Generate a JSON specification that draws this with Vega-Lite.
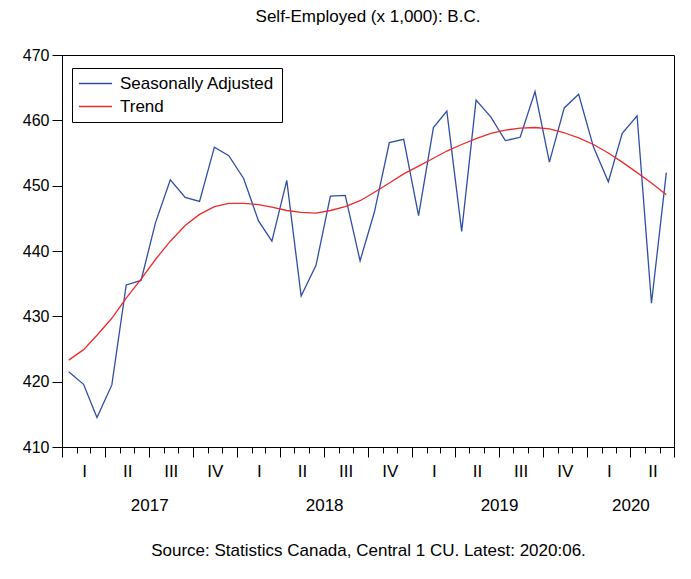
{
  "$schema": "https://vega.github.io/schema/vega-lite/v6.json",
  "width": 612,
  "height": 392,
  "autosize": "none",
  "padding": {"left": 62, "top": 55, "right": 17, "bottom": 132},
  "background": "white",
  "title": {
    "text": "Self-Employed (x 1,000): B.C.",
    "font": "Liberation Sans",
    "fontSize": 17,
    "fontWeight": "normal",
    "color": "#000",
    "anchor": "middle",
    "frame": "group",
    "offset": 21
  },
  "config": {
    "view": {"stroke": "#000", "strokeWidth": 1},
    "axis": {
      "labelFont": "Liberation Sans",
      "labelFontSize": 17,
      "labelColor": "#000",
      "domainColor": "#000",
      "tickColor": "#000",
      "grid": false,
      "titleFont": "Liberation Sans",
      "titleFontSize": 17,
      "titleFontWeight": "normal",
      "titleColor": "#000"
    },
    "legend": {
      "labelFont": "Liberation Sans",
      "labelFontSize": 17,
      "labelColor": "#000"
    }
  },
  "data": {
    "values": [
      {"date": "2017-01-15", "sa": 421.5, "trend": 423.3},
      {"date": "2017-02-15", "sa": 419.6, "trend": 424.9},
      {"date": "2017-03-15", "sa": 414.5, "trend": 427.1},
      {"date": "2017-04-15", "sa": 419.5, "trend": 429.7},
      {"date": "2017-05-15", "sa": 434.8, "trend": 432.8},
      {"date": "2017-06-15", "sa": 435.5, "trend": 435.7},
      {"date": "2017-07-15", "sa": 444.3, "trend": 438.7},
      {"date": "2017-08-15", "sa": 450.9, "trend": 441.5},
      {"date": "2017-09-15", "sa": 448.2, "trend": 443.9},
      {"date": "2017-10-15", "sa": 447.6, "trend": 445.6},
      {"date": "2017-11-15", "sa": 455.9, "trend": 446.8},
      {"date": "2017-12-15", "sa": 454.6, "trend": 447.3},
      {"date": "2018-01-15", "sa": 451.1, "trend": 447.3},
      {"date": "2018-02-15", "sa": 444.6, "trend": 447.1},
      {"date": "2018-03-15", "sa": 441.5, "trend": 446.7},
      {"date": "2018-04-15", "sa": 450.8, "trend": 446.2},
      {"date": "2018-05-15", "sa": 433.1, "trend": 445.9},
      {"date": "2018-06-15", "sa": 437.8, "trend": 445.8},
      {"date": "2018-07-15", "sa": 448.4, "trend": 446.2},
      {"date": "2018-08-15", "sa": 448.5, "trend": 446.8},
      {"date": "2018-09-15", "sa": 438.5, "trend": 447.7},
      {"date": "2018-10-15", "sa": 446.0, "trend": 449.0},
      {"date": "2018-11-15", "sa": 456.6, "trend": 450.4},
      {"date": "2018-12-15", "sa": 457.1, "trend": 451.8},
      {"date": "2019-01-15", "sa": 445.4, "trend": 453.0},
      {"date": "2019-02-15", "sa": 458.9, "trend": 454.2},
      {"date": "2019-03-15", "sa": 461.4, "trend": 455.3},
      {"date": "2019-04-15", "sa": 443.0, "trend": 456.3},
      {"date": "2019-05-15", "sa": 463.1, "trend": 457.2},
      {"date": "2019-06-15", "sa": 460.5, "trend": 458.0},
      {"date": "2019-07-15", "sa": 456.9, "trend": 458.5},
      {"date": "2019-08-15", "sa": 457.4, "trend": 458.8},
      {"date": "2019-09-15", "sa": 464.4, "trend": 458.9},
      {"date": "2019-10-15", "sa": 453.6, "trend": 458.7},
      {"date": "2019-11-15", "sa": 461.9, "trend": 458.1},
      {"date": "2019-12-15", "sa": 464.0, "trend": 457.3},
      {"date": "2020-01-15", "sa": 455.9, "trend": 456.3},
      {"date": "2020-02-15", "sa": 450.6, "trend": 455.0},
      {"date": "2020-03-15", "sa": 458.0, "trend": 453.6},
      {"date": "2020-04-15", "sa": 460.7, "trend": 452.0},
      {"date": "2020-05-15", "sa": 432.0, "trend": 450.4},
      {"date": "2020-06-15", "sa": 452.0, "trend": 448.6}
    ]
  },
  "resolve": {"axis": {"x": "independent"}},
  "layer": [
    {
      "mark": {"type": "line", "strokeWidth": 1.3},
      "encoding": {
        "x": {
          "field": "date",
          "type": "temporal",
          "scale": {
            "type": "utc",
            "domain": [
              {"year": 2017, "month": 1, "date": 1, "utc": true},
              {"year": 2020, "month": 7, "date": 1, "utc": true}
            ],
            "nice": false
          },
          "axis": {
            "orient": "bottom",
            "title": null,
            "tickCount": {"interval": "month", "step": 1},
            "tickSize": {"condition": {"test": "utcmonth(datum.value) % 3 === 0", "value": 10}, "value": 6},
            "labelPadding": 6,
            "labelOffset": 22,
            "labelFlush": false,
            "labelOverlap": false,
            "labelExpr": "(utcmonth(datum.value) % 3 === 0 && datum.value < utc(2020,6,1)) ? ['I','II','III','IV'][utcmonth(datum.value)/3] : ''"
          }
        },
        "y": {
          "field": "sa",
          "type": "quantitative",
          "scale": {"domain": [410, 470], "nice": false, "zero": false},
          "axis": {
            "title": null,
            "values": [410, 420, 430, 440, 450, 460, 470],
            "labelFontSize": 16,
            "tickSize": 10,
            "labelPadding": 3
          }
        },
        "color": {
          "datum": "Seasonally Adjusted",
          "type": "nominal",
          "scale": {"domain": ["Seasonally Adjusted", "Trend"], "range": ["#2f4ea6", "#ee2b2b"]},
          "legend": {
            "title": null,
            "orient": "none",
            "legendX": 10,
            "legendY": 13,
            "direction": "vertical",
            "strokeColor": "#000",
            "fillColor": "#fff",
            "padding": 7,
            "rowPadding": 5,
            "symbolType": "M-5,0L5,0",
            "symbolSize": 44,
            "symbolStrokeWidth": 1.3,
            "symbolOffset": 8,
            "labelOffset": 16
          }
        }
      }
    },
    {
      "mark": {"type": "line", "strokeWidth": 1.3},
      "encoding": {
        "x": {
          "field": "date",
          "type": "temporal",
          "axis": {
            "orient": "bottom",
            "ticks": false,
            "domain": false,
            "labelPadding": 50,
            "labelFlush": false,
            "labelOverlap": false,
            "values": [
              {"year": 2017, "month": 7, "date": 2, "utc": true},
              {"year": 2018, "month": 7, "date": 2, "utc": true},
              {"year": 2019, "month": 7, "date": 2, "utc": true},
              {"year": 2020, "month": 4, "date": 1, "utc": true}
            ],
            "labelExpr": "utcFormat(datum.value, '%Y')",
            "title": "Source: Statistics Canada, Central 1 CU. Latest: 2020:06.",
            "titlePadding": 29
          }
        },
        "y": {"field": "trend", "type": "quantitative"},
        "color": {"datum": "Trend", "type": "nominal"}
      }
    }
  ]
}
